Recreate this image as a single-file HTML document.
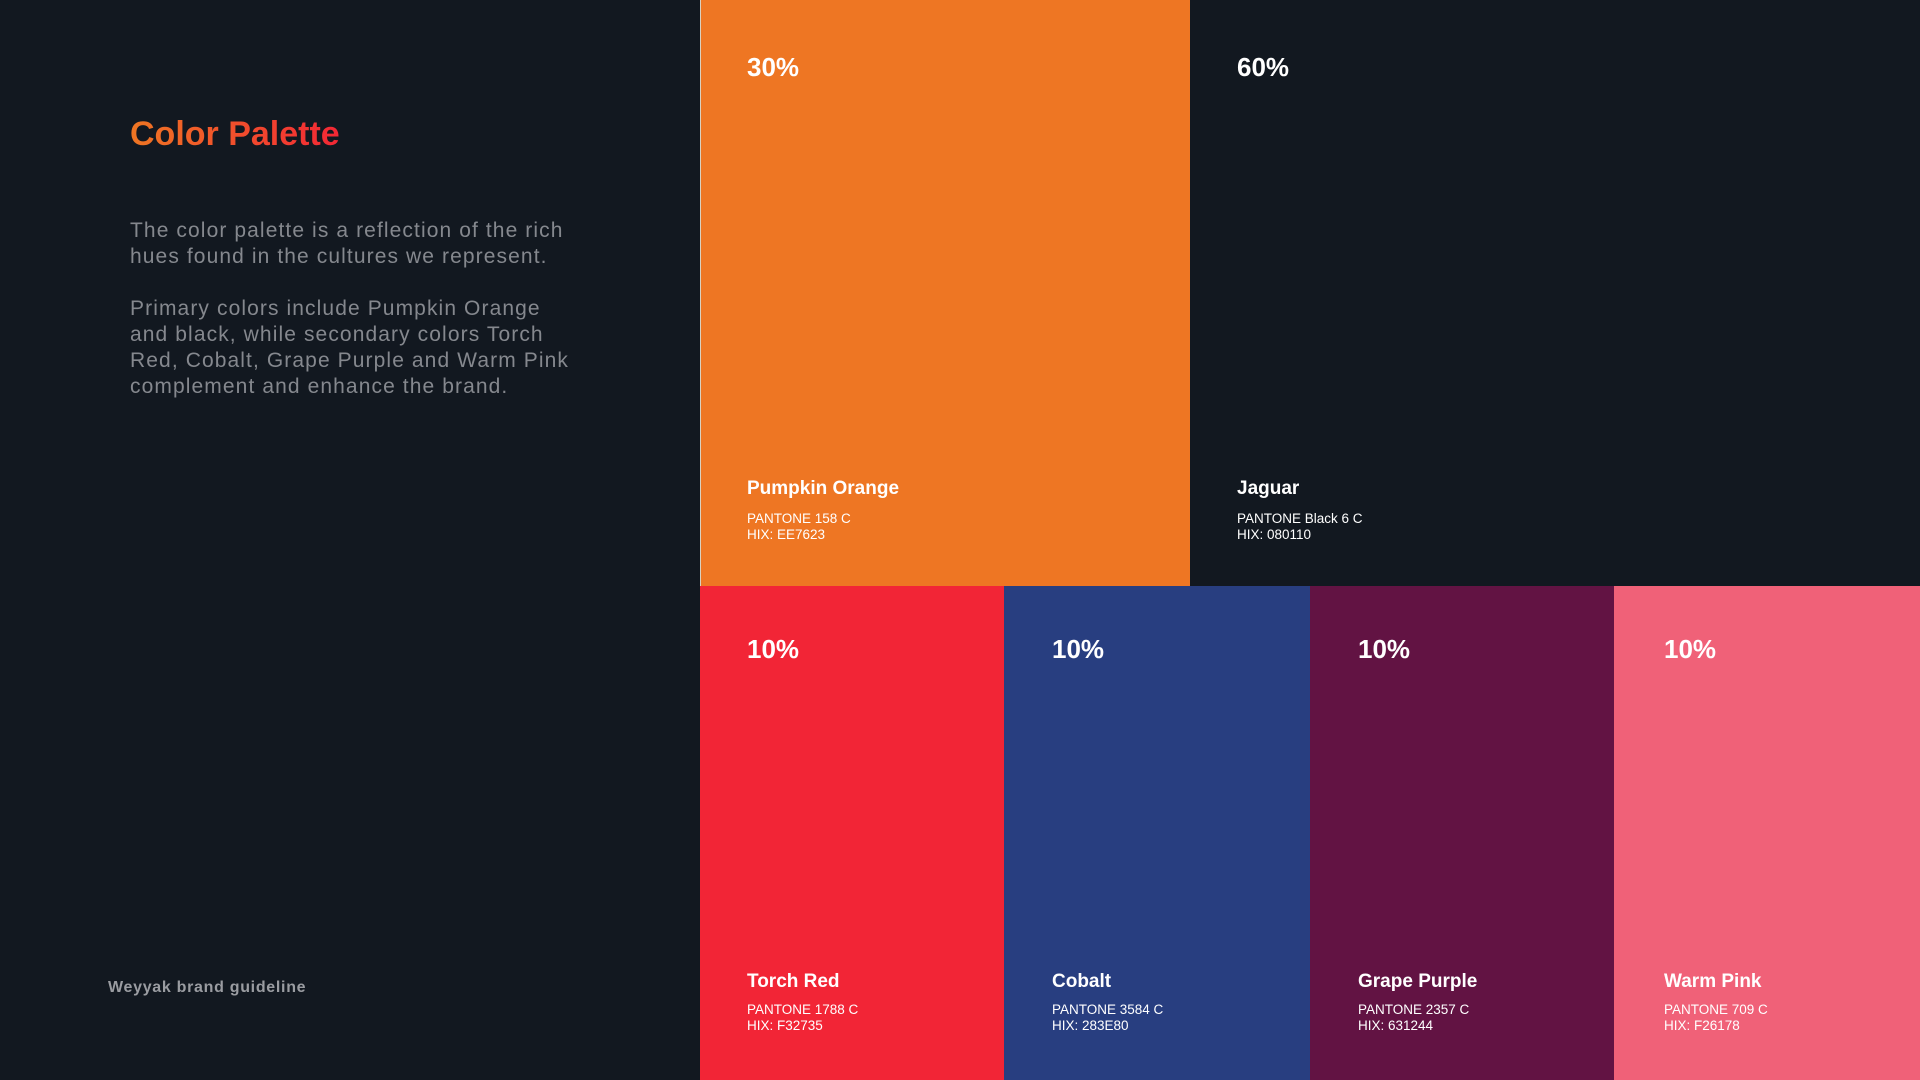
<!DOCTYPE html>
<html><head><meta charset="utf-8"><style>
*{margin:0;padding:0;box-sizing:border-box}
body{width:1920px;height:1080px;background:#121820;position:relative;overflow:hidden;font-family:"Liberation Sans",sans-serif}
.t{position:absolute;white-space:nowrap}
.sw{position:absolute;color:#fff}
.pct{position:absolute;font-weight:bold;font-size:26px;line-height:30px}
.nm{position:absolute;font-weight:bold;font-size:19px;line-height:22px}
.cd{position:absolute;font-size:13.5px;line-height:16px}
</style></head><body>
<div class="t" style="left:130px;top:112px;font-size:34px;font-weight:bold;line-height:44px;background:linear-gradient(90deg,#ee7623,#f32735);-webkit-background-clip:text;color:transparent">Color Palette</div>
<div class="t" style="left:130px;top:218px;font-size:21px;line-height:26px;color:#85888e;letter-spacing:1.1px">
The color palette is a reflection of the rich<br>hues found in the cultures we represent.<br><br>Primary colors include Pumpkin Orange<br>and black, while secondary colors Torch<br>Red, Cobalt, Grape Purple and Warm Pink<br>complement and enhance the brand.</div>
<div class="t" style="left:108px;top:979px;font-size:16px;font-weight:bold;color:#9a9ca1;letter-spacing:0.7px">Weyyak brand guideline</div>

<div class="sw" style="left:700px;top:0;width:490px;height:586px;background:#ee7623;border-left:1px solid #d9d0c0">
<div class="pct" style="left:46px;top:52px">30%</div>
<div class="nm" style="left:46px;top:478px">Pumpkin Orange</div>
<div class="cd" style="left:46px;top:511px">PANTONE 158 C<br>HIX: EE7623</div></div>
<div class="sw" style="left:1190px;top:0;width:730px;height:586px;background:#121820">
<div class="pct" style="left:47px;top:52px">60%</div>
<div class="nm" style="left:47px;top:478px">Jaguar</div>
<div class="cd" style="left:47px;top:511px">PANTONE Black 6 C<br>HIX: 080110</div></div>

<div class="sw" style="left:700px;top:586px;width:304px;height:494px;background:#f22536">
<div class="pct" style="left:47px;top:48px">10%</div>
<div class="nm" style="left:47px;top:385px">Torch Red</div>
<div class="cd" style="left:47px;top:416px">PANTONE 1788 C<br>HIX: F32735</div></div>
<div class="sw" style="left:1004px;top:586px;width:306px;height:494px;background:#283e80">
<div class="pct" style="left:48px;top:48px">10%</div>
<div class="nm" style="left:48px;top:385px">Cobalt</div>
<div class="cd" style="left:48px;top:416px">PANTONE 3584 C<br>HIX: 283E80</div></div>
<div class="sw" style="left:1310px;top:586px;width:304px;height:494px;background:#621343">
<div class="pct" style="left:48px;top:48px">10%</div>
<div class="nm" style="left:48px;top:385px">Grape Purple</div>
<div class="cd" style="left:48px;top:416px">PANTONE 2357 C<br>HIX: 631244</div></div>
<div class="sw" style="left:1614px;top:586px;width:306px;height:494px;background:#f06178">
<div class="pct" style="left:50px;top:48px">10%</div>
<div class="nm" style="left:50px;top:385px">Warm Pink</div>
<div class="cd" style="left:50px;top:416px">PANTONE 709 C<br>HIX: F26178</div></div>
</body></html>
